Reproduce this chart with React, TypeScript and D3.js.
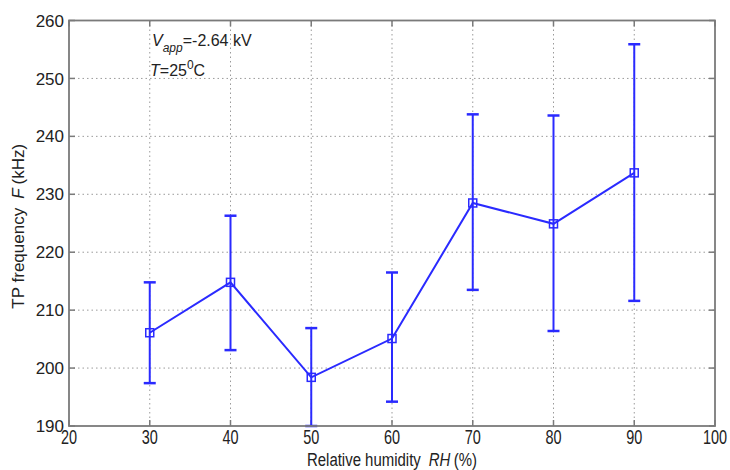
import * as d3 from 'd3';

const humidity = [30, 40, 50, 60, 70, 80, 90];
const freqMean = [206.1, 214.8, 198.4, 205.1, 228.5, 224.9, 233.7];
const freqUpper = [214.8, 226.3, 206.9, 216.5, 243.8, 243.6, 255.9];
const freqLower = [197.4, 203.1, 190.0, 194.2, 213.5, 206.4, 211.6];
const xTicks = [20, 30, 40, 50, 60, 70, 80, 90, 100];
const yTicks = [190, 200, 210, 220, 230, 240, 250, 260];

const W = 730;
const H = 470;
const margin = { top: 20.5, right: 15, bottom: 44, left: 69 };
const blue = '#2a2aff';
const frame = '#7a7a7a';
const font = 'Liberation Sans, Arial, sans-serif';

export default function App() {
    const x = d3.scaleLinear().domain([20, 100]).range([margin.left, W - margin.right]);
    const y = d3.scaleLinear().domain([190, 260]).range([H - margin.bottom, margin.top]);

    const points = humidity.map((h, i) => ({
        h,
        mean: freqMean[i],
        up: freqUpper[i],
        lo: freqLower[i],
    }));

    const line = d3
        .line<{ h: number; mean: number }>()
        .x(d => x(d.h))
        .y(d => y(d.mean));

    const [x0, x1] = x.range();
    const [y0, y1] = y.range();
    const cap = 6;
    const sq = 4;

    return (
        <svg width={W} height={H} style={{ position: 'absolute', left: 0, top: 0, background: '#fff' }}>
            {/* grid */}
            <g stroke="#9a9a9a" strokeWidth={1} strokeDasharray="1.5,3">
                {xTicks.slice(1, -1).map(t => (
                    <line key={'gx' + t} x1={x(t)} x2={x(t)} y1={y1} y2={y0} />
                ))}
                {yTicks.slice(1, -1).map(t => (
                    <line key={'gy' + t} x1={x0} x2={x1} y1={y(t)} y2={y(t)} />
                ))}
            </g>

            {/* tick marks inside the frame */}
            <g stroke={frame} strokeWidth={1.5}>
                {xTicks.map(t => (
                    <g key={'tx' + t}>
                        <line x1={x(t)} x2={x(t)} y1={y0} y2={y0 - 6} />
                        <line x1={x(t)} x2={x(t)} y1={y1} y2={y1 + 6} />
                    </g>
                ))}
                {yTicks.map(t => (
                    <g key={'ty' + t}>
                        <line x1={x0} x2={x0 + 6} y1={y(t)} y2={y(t)} />
                        <line x1={x1} x2={x1 - 6} y1={y(t)} y2={y(t)} />
                    </g>
                ))}
            </g>

            {/* error bars */}
            <g stroke={blue} strokeWidth={2} fill="none">
                {points.map(d => (
                    <g key={'e' + d.h}>
                        <line x1={x(d.h)} x2={x(d.h)} y1={y(d.up)} y2={y(d.lo)} />
                        <line x1={x(d.h) - cap} x2={x(d.h) + cap} y1={y(d.up)} y2={y(d.up)} strokeWidth={2.5} />
                        <line x1={x(d.h) - cap} x2={x(d.h) + cap} y1={y(d.lo)} y2={y(d.lo)} strokeWidth={2.5} />
                    </g>
                ))}
            </g>

            {/* mean line + square markers */}
            <path d={line(points) ?? ''} fill="none" stroke={blue} strokeWidth={2} />
            <g stroke={blue} strokeWidth={1.5} fill="none">
                {points.map(d => (
                    <rect key={'m' + d.h} x={x(d.h) - sq} y={y(d.mean) - sq} width={sq * 2} height={sq * 2} />
                ))}
            </g>

            {/* frame */}
            <rect x={x0} y={y1} width={x1 - x0} height={y0 - y1} fill="none" stroke={frame} strokeWidth={1.8} />

            {/* tick labels */}
            <g fontFamily={font} fontSize={17} fill="#222">
                {yTicks.map(t => (
                    <text key={'ly' + t} x={x0 - 5} y={y(t)} dy="0.36em" textAnchor="end">
                        {t}
                    </text>
                ))}
                {xTicks.map(t => (
                    <text
                        key={'lx' + t}
                        transform={`translate(${x(t)},${y0 + 18}) scale(0.85,1.15)`}
                        textAnchor="middle"
                    >
                        {t}
                    </text>
                ))}
            </g>

            {/* axis titles */}
            <text
                transform={`translate(${(x0 + x1) / 2},${H - 4}) scale(0.88,1.08)`}
                textAnchor="middle"
                fontFamily={font}
                fontSize={17}
                fill="#222"
            >
                <tspan>Relative humidity</tspan>
                <tspan dx={9} fontStyle="italic">RH</tspan>
                <tspan dx={4}>(%)</tspan>
            </text>
            <text
                transform={`translate(24,${(y0 + y1) / 2 + 3}) rotate(-90)`}
                textAnchor="middle"
                fontFamily={font}
                fontSize={17}
                fill="#222"
            >
                <tspan>TP frequency</tspan>
                <tspan dx={9} fontStyle="italic">F</tspan>
                <tspan dx={4}>(kHz)</tspan>
            </text>

            {/* annotation */}
            <g fontFamily={font} fontSize={16} fill="#222">
                <text x={152} y={46}>
                    <tspan fontStyle="italic">V</tspan>
                    <tspan fontStyle="italic" fontSize={12} dy={6}>app</tspan>
                    <tspan dy={-6}>=-2.64 kV</tspan>
                </text>
                <text x={150} y={76}>
                    <tspan fontStyle="italic">T</tspan>
                    <tspan>=25</tspan>
                    <tspan fontSize={12} dy={-7}>0</tspan>
                    <tspan dy={7}>C</tspan>
                </text>
            </g>
        </svg>
    );
}
